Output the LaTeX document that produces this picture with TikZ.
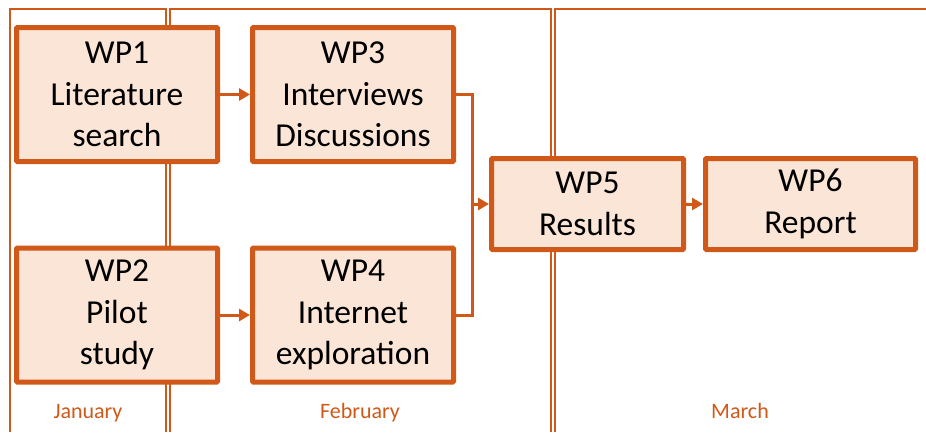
\documentclass[tikz,border=0pt]{standalone}
\usepackage{fontspec}
\setmainfont{Carlito}
\usepackage{xcolor}
\usetikzlibrary{arrows.meta, positioning}

\definecolor{wporange}{RGB}{208,88,24}
\definecolor{wpfill}{RGB}{251,229,214}

\begin{document}
\begin{tikzpicture}[
  x=1pt, y=-1pt,
  wp/.style={rectangle, draw=wporange, fill=wpfill, line width=5pt, rounded corners=1pt,
    align=center, inner sep=0pt, font=\fontsize{33.5}{41.5}\selectfont},
  month/.style={text=wporange, font=\fontsize{22}{26}\selectfont},
  frame/.style={draw=wporange, line width=2pt},
  link/.style={draw=wporange, line width=3pt, line join=miter},
  arr/.style={link, -{Triangle[length=11pt, width=12pt]}}
]
  \useasboundingbox (0,0) rectangle (926,432);

  % month columns
  \draw[frame] (10,432) -- (10,9) -- (166,9) -- (166,432);
  \draw[frame] (170,432) -- (170,9) -- (551,9) -- (551,432);
  \draw[frame] (555,432) -- (555,9) -- (930,9);

  \node[month, anchor=base] (jan) at (88,418) {January};
  \node[month, anchor=base] (feb) at (360,418) {February};
  \node[month, anchor=base] (mar) at (740,418) {March};

  % work packages
  \node[wp, minimum width=201pt, minimum height=134pt] (WP1) at (117,94.5) {WP1\\Literature\\search};
  \node[wp, minimum width=201pt, minimum height=134pt] (WP3) at (353,94.5) {WP3\\Interviews\\Discussions};
  \node[wp, minimum width=201pt, minimum height=134pt] (WP2) at (117,315) {WP2\\Pilot\\study};
  \node[wp, minimum width=201pt, minimum height=134pt] (WP4) at (353,315) {WP4\\Internet\\exploration};
  \node[wp, minimum width=192pt, minimum height=91pt] (WP5) at (587.5,204) {WP5\\Results};
  \node[wp, minimum width=210pt, minimum height=91pt] (WP6) at (810.5,204) {WP6\\Report};

  \coordinate (join) at (472,204);

  \draw[arr] (WP1) -- (WP3);
  \draw[arr] (WP2) -- (WP4);
  \draw[link] (WP3.east) -| (join) |- (WP4.east);
  \draw[arr] (join) -- (WP5);
  \draw[arr] (WP5) -- (WP6);
\end{tikzpicture}
\end{document}
